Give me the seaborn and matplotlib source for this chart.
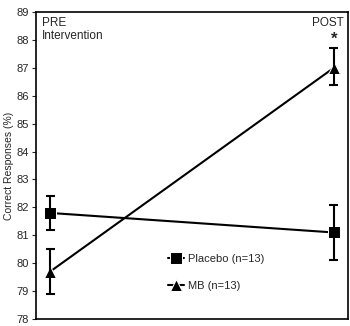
import matplotlib
matplotlib.use("Agg")
import matplotlib.pyplot as plt
import seaborn as sns
import pandas as pd
import numpy as np

sns.set_style("white")
plt.rcParams['font.family'] = ['Liberation Sans', 'DejaVu Sans']

phases = ["PRE", "POST"]
placebo_mean = [81.8, 81.1]
placebo_err_low = [81.2, 80.1]
placebo_err_high = [82.4, 82.1]
mb_mean = [79.7, 87.0]
mb_err_low = [78.9, 86.4]
mb_err_high = [80.5, 87.7]
yticks = [78, 79, 80, 81, 82, 83, 84, 85, 86, 87, 88, 89]

df = pd.DataFrame({
    "phase": phases * 2,
    "x": [0, 1, 0, 1],
    "mean": placebo_mean + mb_mean,
    "group": ["Placebo (n=13)"] * 2 + ["MB (n=13)"] * 2,
})

fig = plt.figure(figsize=(3.5, 3.26), dpi=100)
ax = fig.add_axes([36/350, 7/326, 312/350, 307/326])

sns.lineplot(data=df, x="x", y="mean", hue="group", style="group",
             markers={"Placebo (n=13)": "s", "MB (n=13)": "^"}, dashes=False,
             palette={"Placebo (n=13)": "black", "MB (n=13)": "black"},
             markersize=8, linewidth=1.5, ax=ax, legend=True)

for lo, hi in [(placebo_err_low, placebo_err_high), (mb_err_low, mb_err_high)]:
    for i in range(2):
        ax.vlines(i, lo[i], hi[i], color="black", lw=1.5)
        ax.hlines([lo[i], hi[i]], i - 0.016, i + 0.016, color="black", lw=1.5)

ax.set_xlim(-0.05, 1.05)
ax.set_ylim(78, 89)
ax.set_yticks(yticks)
ax.set_xticks([])
ax.set_xlabel("")
ax.set_ylabel("Correct Responses (%)", fontsize=7.5, labelpad=2)
ax.tick_params(axis="y", labelsize=8, length=3, direction="out", left=True, pad=2)
for s in ax.spines.values():
    s.set_color("black")
    s.set_linewidth(1.2)

ax.text(0.02, 0.985, "PRE\nIntervention", transform=ax.transAxes, ha="left", va="top", fontsize=8.5, linespacing=1.2)
ax.text(0.985, 0.985, "POST", transform=ax.transAxes, ha="right", va="top", fontsize=8.5)
ax.text(1, 87.75, "*", ha="center", va="bottom", fontsize=12, fontweight="bold")

leg = ax.legend(loc="lower left", bbox_to_anchor=(0.39, 0.06), frameon=False,
                fontsize=8, handlelength=1.5, handletextpad=0.3, labelspacing=1.5,
                title=None)
plt.savefig("out.png", dpi=100)
